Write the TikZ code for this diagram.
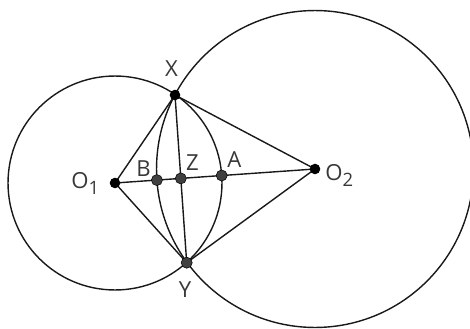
\documentclass[tikz,border=0pt]{standalone}
\usepackage{fontspec}
\setmainfont{Open Sans}
\newcommand{\sbs}[1]{\raisebox{-0.3em}{\fontsize{10.5}{11}\selectfont #1}}
\begin{document}
\begin{tikzpicture}[x=0.02cm,y=-0.02cm,
  ln/.style={line width=0.8pt,draw=black!90},
  bdot/.style={circle,fill=black,inner sep=0pt,minimum size=6pt},
  gdot/.style={circle,fill=black!75,draw=black,line width=0.3pt,inner sep=0pt,minimum size=6.3pt},
  lbl/.style={text=black!78,font=\fontsize{12.6}{14}\selectfont,inner sep=0pt,anchor=base}]
\useasboundingbox (0,0) rectangle (470,328);
\coordinate (o1) at (115,183);
\coordinate (o2) at (315,169);
\coordinate (x) at (175,95);
\coordinate (y) at (186.7,262.7);
\coordinate (a) at (221.7,175.5);
\coordinate (b) at (156.9,180.1);
\coordinate (z) at (intersection of x--y and o1--o2);
\draw[ln] (o1) circle[radius=2.14cm];
\draw[ln] (o2) circle[radius=3.17cm];
\draw[ln] (o1) -- (x) -- (o2) -- (y) -- (o1) -- (o2);
\draw[ln] (x) -- (y);
\node[bdot] (O1) at (o1) {};
\node[bdot] (O2) at (o2) {};
\node[bdot] (X) at (x) {};
\node[gdot] (Y) at (y) {};
\node[gdot] (A) at (a) {};
\node[gdot] (B) at (b) {};
\node[gdot] (Z) at (z) {};
\node[lbl] (lX) at (171.5,76) {X};
\node[lbl] (lY) at (185,297) {Y};
\node[lbl,anchor=base west] (lO1) at (71,188) {O\sbs{1}};
\node[lbl,anchor=base west] (lO2) at (325,180) {O\sbs{2}};
\node[lbl] (lB) at (143.5,176) {B};
\node[lbl] (lZ) at (192.5,170) {Z};
\node[lbl] (lA) at (234.5,167) {A};
\end{tikzpicture}
\end{document}
